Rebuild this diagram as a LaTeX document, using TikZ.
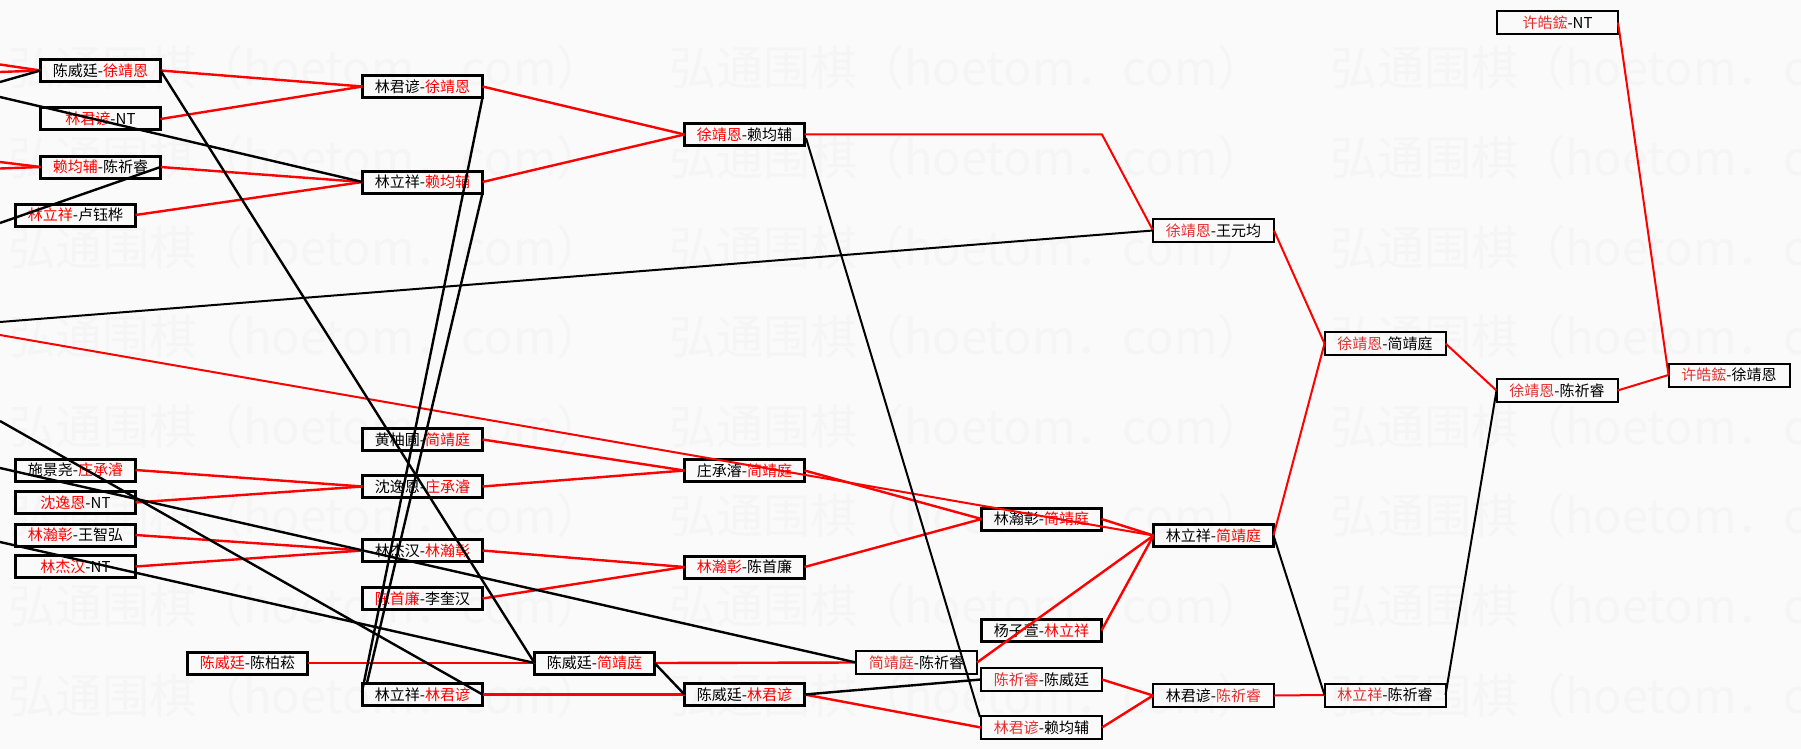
\documentclass[tikz,border=0pt]{standalone}
\usepackage{fontspec}
\newfontfamily\cjk{Noto Sans CJK SC}
\definecolor{wred}{RGB}{255,0,0}
\definecolor{lred}{RGB}{228,48,48}
\newcommand\redpart[1]{\textcolor{wred}{#1}}
\newcommand\pinkpart[1]{\textcolor{lred}{#1}}
\begin{document}
\begin{tikzpicture}[x=1pt,y=-1pt,
  box/.style={draw=black, line width=3pt, minimum width=120pt, minimum height=22pt,
    inner sep=0pt, outer sep=0pt, font=\cjk\fontsize{15}{18}\selectfont},
  tbox/.style={box, line width=2pt, minimum width=121pt, minimum height=23pt},
  win/.style={draw=wred, line width=2.4pt},
  loss/.style={draw=black, line width=2.4pt},
  thinl/.style={line width=2pt},
  wm/.style={anchor=west, inner sep=0pt, text=black!4, font=\cjk\fontsize{47}{50}\selectfont}]
\useasboundingbox (0,0) rectangle (1801,749);
\clip (0,0) rectangle (1801,749);
\fill[white!98!black] (0,0) rectangle (1801,749);
% watermark
\foreach \k in {0,...,7}{
  \foreach \j in {0,1,2}{
    \node[wm] (wm-\j-\k) at ({8+661*\j},{68+89.6*\k}) {弘通围棋（hoetom．com）};
  }
}
% nodes
\node[box] (A1) at (100.5,70.5) {陈威廷-\redpart{徐靖恩}};
\node[box] (A2) at (100.5,119) {\redpart{林君谚}-NT};
\node[box] (A3) at (100.5,167) {\redpart{赖均辅}-陈祈睿};
\node[box] (A4) at (75.5,215) {\redpart{林立祥}-卢钰桦};
\node[box] (A5) at (75.5,470) {施景尧-\redpart{庄承濬}};
\node[box] (A6) at (75.5,502.5) {\redpart{沈逸恩}-NT};
\node[box] (A7) at (75.5,535) {\redpart{林瀚彰}-王智弘};
\node[box] (A8) at (75.5,566.5) {\redpart{林杰汉}-NT};
\node[box] (A9) at (247.5,663) {\redpart{陈威廷}-陈柏菘};
\node[box] (B1) at (422.5,86.5) {林君谚-\redpart{徐靖恩}};
\node[box] (B2) at (422.5,182) {林立祥-\redpart{赖均辅}};
\node[box] (B3) at (422.5,439.5) {黄柚圃-\redpart{简靖庭}};
\node[box] (B4) at (422.5,486.5) {沈逸恩-\redpart{庄承濬}};
\node[box] (B5) at (422.5,550.5) {林杰汉-\redpart{林瀚彰}};
\node[box] (B6) at (422.5,598.5) {\redpart{陈首廉}-李奎汉};
\node[box] (B7) at (422.5,694.5) {林立祥-\redpart{林君谚}};
\node[box] (C0) at (594.5,663) {陈威廷-\redpart{简靖庭}};
\node[box] (C1) at (744.5,134.5) {\redpart{徐靖恩}-赖均辅};
\node[box] (C2) at (744.5,470.5) {庄承濬-\redpart{简靖庭}};
\node[box] (C3) at (744.5,567) {\redpart{林瀚彰}-陈首廉};
\node[box] (C4) at (744.5,694.5) {陈威廷-\redpart{林君谚}};
\node[tbox] (D0) at (916.5,662.5) {\pinkpart{简靖庭}-陈祈睿};
\node[box] (D1) at (1041.5,519) {林瀚彰-\redpart{简靖庭}};
\node[box] (D2) at (1041.5,630.5) {杨子萱-\redpart{林立祥}};
\node[tbox] (D3) at (1041.5,679.5) {\pinkpart{陈祈睿}-陈威廷};
\node[tbox] (D4) at (1041.5,727.5) {\pinkpart{林君谚}-赖均辅};
\node[tbox] (E1) at (1213.5,230.5) {\pinkpart{徐靖恩}-王元均};
\node[box] (E2) at (1213.5,535.5) {林立祥-\redpart{简靖庭}};
\node[tbox] (E3) at (1213.5,695.5) {林君谚-\pinkpart{陈祈睿}};
\node[tbox] (F1) at (1385,343.5) {\pinkpart{徐靖恩}-简靖庭};
\node[tbox] (F2) at (1385,695) {\pinkpart{林立祥}-陈祈睿};
\node[tbox] (G0) at (1557.5,22.5) {\pinkpart{许皓鋐}-NT};
\node[tbox] (G1) at (1557,390.5) {\pinkpart{徐靖恩}-陈祈睿};
\node[tbox] (H1) at (1729,375) {\pinkpart{许皓鋐}-徐靖恩};
% free ends and bend points
\coordinate (lA) at (0,64.5);
\coordinate (lB) at (0,72);
\coordinate (lC) at (0,82);
\coordinate (lD) at (0,97);
\coordinate (lE) at (0,162);
\coordinate (lF) at (0,168.5);
\coordinate (lG) at (0,223);
\coordinate (lH) at (0,322);
\coordinate (lI) at (0,335);
\coordinate (lJ) at (0,421);
\coordinate (lK) at (0,468);
\coordinate (lL) at (0,542);
\coordinate (bend1) at (1102,134.5);
\coordinate (b7a) at (362,692);
\coordinate (b7b) at (367,683);
\coordinate (c1b) at (806,138);
\coordinate (d4a) at (980,717);
% winner connectors
\draw[win] (lA) -- (A1.west);
\draw[win] (lB) -- (A1.west);
\draw[win] (lE) -- (A3.west);
\draw[win] (lF) -- (A3.west);
\draw[win] (A1.east) -- (B1.west);
\draw[win] (A2.east) -- (B1.west);
\draw[win] (A3.east) -- (B2.west);
\draw[win] (A4.east) -- (B2.west);
\draw[win] (B1.east) -- (C1.west);
\draw[win] (B2.east) -- (C1.west);
\draw[win,thinl] (C1.east) -- (bend1) -- (E1.west);
\draw[win] (A5.east) -- (B4.west);
\draw[win] (A6.east) -- (B4.west);
\draw[win] (A7.east) -- (B5.west);
\draw[win] (A8.east) -- (B5.west);
\draw[win] (B3.east) -- (C2.west);
\draw[win] (B4.east) -- (C2.west);
\draw[win] (B5.east) -- (C3.west);
\draw[win] (B6.east) -- (C3.west);
\draw[win] (C2.east) -- (D1.west);
\draw[win] (C3.east) -- (D1.west);
\draw[win] (A9.east) -- (C0.west);
\draw[win] (B7.east) -- (C4.west);
\draw[win] (C0.east) -- (D0.west);
\draw[win] (C4.east) -- (D4.west);
\draw[win,thinl] (lI) -- (E2.west);
\draw[win] (D1.east) -- (E2.west);
\draw[win] (D0.east) -- (E2.west);
\draw[win] (D2.east) -- (E2.west);
\draw[win] (D3.east) -- (E3.west);
\draw[win] (D4.east) -- (E3.west);
\draw[win,thinl] (E1.east) -- (F1.west);
\draw[win,thinl] (E2.east) -- (F1.west);
\draw[win,thinl] (E3.east) -- (F2.west);
\draw[win,thinl] (F1.east) -- (G1.west);
\draw[win,thinl] (G1.east) -- (H1.west);
\draw[win,thinl] (G0.east) -- (H1.west);
% loser connectors
\draw[loss] (lC) -- (A1.west);
\draw[loss] (lD) -- (B2.west);
\draw[loss] (lG) -- (A3.east);
\draw[loss] (A1.east) -- (C0.west);
\draw[loss] (B1.south east) -- (b7a);
\draw[loss] (B2.south east) -- (b7b);
\draw[loss,thinl] (c1b) -- (d4a);
\draw[loss,thinl] (lH) -- (E1.west);
\draw[loss] (lJ) -- (B7.east);
\draw[loss] (lK) -- (D0.west);
\draw[loss] (lL) -- (C0.west);
\draw[loss] (C0.east) -- (C4.west);
\draw[loss] (C4.east) -- (D3.west);
\draw[loss,thinl] (E2.east) -- (F2.west);
\draw[loss,thinl] (F2.east) -- (G1.west);
\end{tikzpicture}
\end{document}
